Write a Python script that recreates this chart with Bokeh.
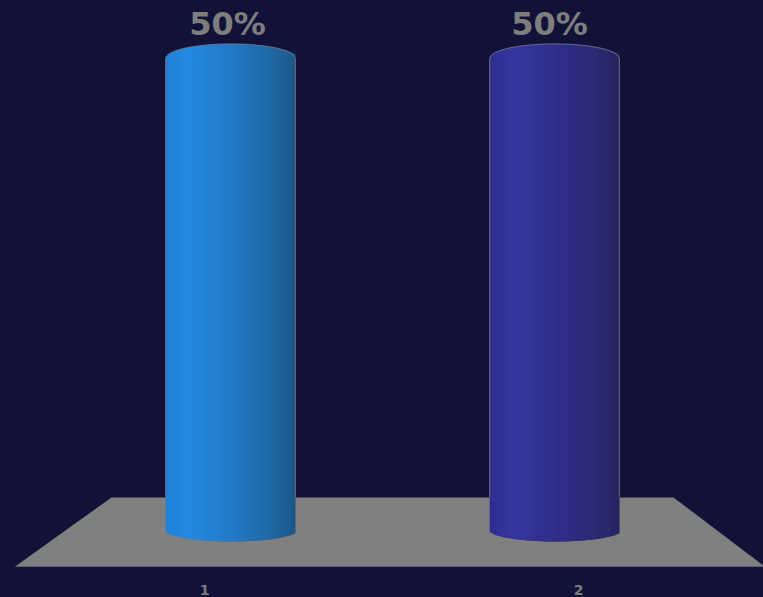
import numpy as np
from bokeh.core.properties import value
from bokeh.embed import file_html
from bokeh.models import ColumnDataSource, Range1d
from bokeh.plotting import figure
from bokeh.resources import INLINE

# Chart content
categories = ["1", "2"]
positions = [1, 2]
shares = [50, 50]
share_labels = ["50%", "50%"]

# Cylinder shading from left edge to right edge
shade_stops = [0.0, 0.18, 0.5, 0.82, 1.0]
shades = [
    [(33, 130, 216), (37, 138, 226), (35, 122, 200), (32, 104, 162), (29, 88, 136)],
    [(46, 46, 146), (54, 54, 160), (47, 47, 140), (43, 43, 118), (37, 37, 96)],
]

BACKGROUND = "#121238"
FLOOR = "#808080"
EDGE = "#6f6f82"
TEXT = "#7e7e7e"

# Plot geometry, in axis units
floor_x = [0.6327, 2.3673, 2.6481, 0.3364]
floor_y = [3.5, 3.5, -3.8, -3.8]
half_width = 0.2
cap_rise = 1.54
base_drop = 1.17
strips = 65

p = figure(
    width=763, height=597, output_backend="svg", toolbar_location=None,
    x_range=Range1d(0.2901, 2.645), y_range=Range1d(-7.1, 56.14),
    background_fill_color=BACKGROUND, border_fill_color=BACKGROUND,
    min_border=0, outline_line_color=None,
)
p.styles = {"background-color": BACKGROUND}
p.axis.visible = False
p.grid.visible = False

# Ground plane under the cylinders
p.patch(floor_x, floor_y, fill_color=FLOOR, line_color=None)
p.line(floor_x[2:], floor_y[2:], line_color="#6a6a78", line_width=1)

# Each cylinder is a stack of narrow vertical strips with elliptical ends;
# every strip runs under its right-hand neighbour so no seams show
for pos, share, shade in zip(positions, shares, shades):
    edges = np.linspace(pos - half_width, pos + half_width, strips + 1)
    mids = (edges[:-1] + edges[1:]) / 2
    t = (mids - edges[0]) / (edges[-1] - edges[0])
    arc = np.sqrt(np.clip(1 - ((mids - pos) / half_width) ** 2, 0, 1))
    channels = [np.interp(t, shade_stops, [c[i] for c in shade]) for i in range(3)]
    colors = ["#%02x%02x%02x" % (int(r), int(g), int(b)) for r, g, b in zip(*channels)]
    rights = np.minimum(edges[1:] + (edges[1] - edges[0]), edges[-1])
    p.quad(
        left=edges[:-1], right=rights,
        top=share + cap_rise * arc, bottom=-base_drop * arc,
        fill_color=colors, line_color=None,
    )
    # Rim of the cap and the two sides
    rim_x = np.linspace(pos - half_width, pos + half_width, 81)
    rim_y = share + cap_rise * np.sqrt(np.clip(1 - ((rim_x - pos) / half_width) ** 2, 0, 1))
    outline_x = np.concatenate([[pos - half_width], rim_x, [pos + half_width]])
    outline_y = np.concatenate([[floor_y[0]], rim_y, [floor_y[0]]])
    p.line(outline_x, outline_y, line_color=EDGE, line_width=1)

# Share labels above the cylinders
labels = ColumnDataSource(dict(
    x=positions,
    y=[s + 3.6 for s in shares],
    text=share_labels,
    dx=[-3, -5],
))
p.text(
    x="x", y="y", text="text", source=labels, x_offset="dx",
    text_align="center", text_baseline="alphabetic",
    text_font=value("DejaVu Sans"), text_font_style="bold",
    text_font_size="32px", text_color=TEXT,
)

# Category labels sit in front of the ground plane
cats = ColumnDataSource(dict(
    x=positions,
    y=[-6.35, -6.35],
    text=categories,
    dx=[-26, 24],
))
p.text(
    x="x", y="y", text="text", source=cats, x_offset="dx",
    text_align="center", text_baseline="alphabetic",
    text_font=value("DejaVu Sans"), text_font_style="bold",
    text_font_size="14px", text_color=TEXT,
)

open("out.html", "w").write(file_html(p, INLINE))
